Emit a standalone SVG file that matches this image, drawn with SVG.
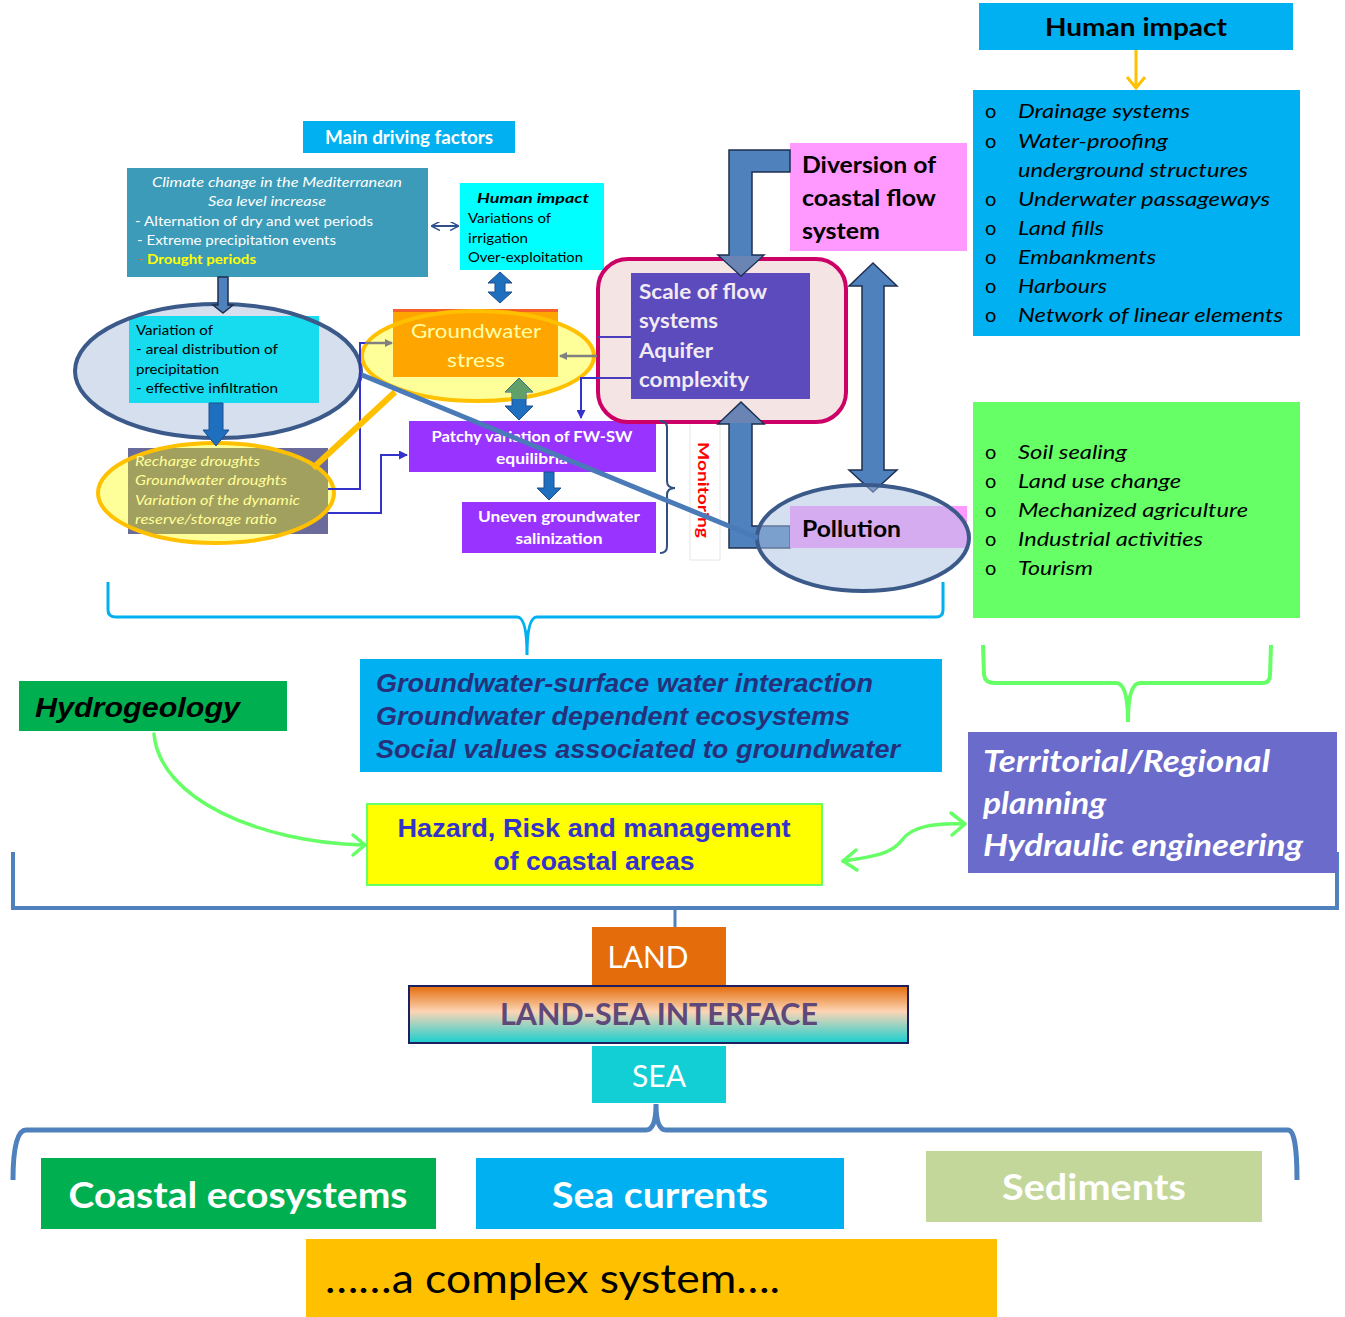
<svg xmlns="http://www.w3.org/2000/svg" width="1345" height="1317" viewBox="0 0 1345 1317">
<style>
.ca{font-family:Lato,"Open Sans","Noto Sans",sans-serif}
.ar{font-family:"Liberation Sans",Arial,sans-serif}
.b{font-weight:bold}
.i{font-style:italic}
.wt{fill:#ffffff}
.bk{fill:#000000}
.pipe{fill:#4f81bd;stroke:#1f2f4f;stroke-width:1.5}
.blk{fill:#1f6fbf;stroke:#1f4f8f;stroke-width:1}
.thin{fill:none;stroke:#3333cc;stroke-width:2}
.gline{fill:none;stroke:#66ff66;stroke-width:3.5;stroke-linecap:round;stroke-linejoin:round}
</style>
<defs>
<linearGradient id="lsg" x1="0" y1="0" x2="0" y2="1">
<stop offset="0" stop-color="#e46c0a"/>
<stop offset="0.45" stop-color="#fcd5b5"/>
<stop offset="1" stop-color="#17cfd0"/>
</linearGradient>
<marker id="mgray" markerWidth="8" markerHeight="8" refX="7" refY="4" orient="auto" markerUnits="userSpaceOnUse">
<path d="M0,0 L8,4 L0,8 z" fill="#808080"/>
</marker>
<marker id="mblue" markerWidth="9" markerHeight="9" refX="8" refY="4.5" orient="auto" markerUnits="userSpaceOnUse">
<path d="M0,0 L9,4.5 L0,9 z" fill="#3333cc"/>
</marker>
<marker id="mdark" markerWidth="9" markerHeight="9" refX="8" refY="4.5" orient="auto" markerUnits="userSpaceOnUse">
<path d="M0,0 L9,4.5 L0,9" fill="none" stroke="#2f4f8f" stroke-width="1.5"/>
</marker>
<marker id="mdarkS" markerWidth="9" markerHeight="9" refX="1" refY="4.5" orient="auto" markerUnits="userSpaceOnUse">
<path d="M9,0 L0,4.5 L9,9" fill="none" stroke="#2f4f8f" stroke-width="1.5"/>
</marker>
<clipPath id="olClip"><ellipse cx="216" cy="493" rx="118" ry="50"/></clipPath>
</defs>

<!-- Right column -->
<g id="human-impact-title">
<rect x="979" y="3" width="314" height="47" fill="#00b0f0"/>
<text x="1136" y="36" class="ca b bk" font-size="25" text-anchor="middle" textLength="182" lengthAdjust="spacingAndGlyphs">Human impact</text>
</g>
<g id="human-impact-list">
<rect x="973" y="90" width="327" height="246" fill="#00b0f0"/>
<g class="ca bk" font-size="20">
<text x="985" y="118">o</text><text x="1018" y="118" class="i" textLength="172" lengthAdjust="spacingAndGlyphs">Drainage systems</text>
<text x="985" y="148">o</text><text x="1018" y="148" class="i" textLength="150" lengthAdjust="spacingAndGlyphs">Water-proofing</text>
<text x="1018" y="177" class="i" textLength="230" lengthAdjust="spacingAndGlyphs">underground structures</text>
<text x="985" y="206">o</text><text x="1018" y="206" class="i" textLength="252" lengthAdjust="spacingAndGlyphs">Underwater passageways</text>
<text x="985" y="235">o</text><text x="1018" y="235" class="i" textLength="86" lengthAdjust="spacingAndGlyphs">Land fills</text>
<text x="985" y="264">o</text><text x="1018" y="264" class="i" textLength="138" lengthAdjust="spacingAndGlyphs">Embankments</text>
<text x="985" y="293">o</text><text x="1018" y="293" class="i" textLength="89" lengthAdjust="spacingAndGlyphs">Harbours</text>
<text x="985" y="322">o</text><text x="1018" y="322" class="i" textLength="265" lengthAdjust="spacingAndGlyphs">Network of linear elements</text>
</g>
</g>
<g id="land-use-list">
<rect x="973" y="402" width="327" height="216" fill="#66ff66"/>
<g class="ca bk" font-size="20">
<text x="985" y="459">o</text><text x="1018" y="459" class="i" textLength="109" lengthAdjust="spacingAndGlyphs">Soil sealing</text>
<text x="985" y="488">o</text><text x="1018" y="488" class="i" textLength="163" lengthAdjust="spacingAndGlyphs">Land use change</text>
<text x="985" y="517">o</text><text x="1018" y="517" class="i" textLength="230" lengthAdjust="spacingAndGlyphs">Mechanized agriculture</text>
<text x="985" y="546">o</text><text x="1018" y="546" class="i" textLength="185" lengthAdjust="spacingAndGlyphs">Industrial activities</text>
<text x="985" y="575">o</text><text x="1018" y="575" class="i" textLength="75" lengthAdjust="spacingAndGlyphs">Tourism</text>
</g>
</g>

<!-- Top-left section -->
<g id="main-driving-factors">
<rect x="303" y="121" width="212" height="32" fill="#00b0f0"/>
<text x="409" y="144" class="ca b wt" font-size="18" text-anchor="middle" textLength="168" lengthAdjust="spacingAndGlyphs">Main driving factors</text>
</g>
<g id="climate-change">
<rect x="127" y="168" width="301" height="109" fill="#3b9bb9"/>
<g class="ca wt" font-size="13">
<text x="277" y="187" class="i" text-anchor="middle" textLength="250" lengthAdjust="spacingAndGlyphs">Climate change in the Mediterranean</text>
<text x="267" y="206" class="i" text-anchor="middle" textLength="118" lengthAdjust="spacingAndGlyphs">Sea level increase</text>
<text x="135" y="226" textLength="238" lengthAdjust="spacingAndGlyphs">-  Alternation of dry and wet periods</text>
<text x="137" y="245" textLength="199" lengthAdjust="spacingAndGlyphs">- Extreme precipitation events</text>
<text x="138" y="264" fill="#e46c0a">-</text>
<text x="147" y="264" class="b" fill="#ffff00" textLength="109" lengthAdjust="spacingAndGlyphs">Drought periods</text>
</g>
</g>
<g id="human-impact-small">
<rect x="460" y="183" width="144" height="87" fill="#00ffff"/>
<g class="ca bk" font-size="13">
<text x="533" y="203" class="b i" text-anchor="middle" font-size="14" textLength="112" lengthAdjust="spacingAndGlyphs">Human impact</text>
<text x="468" y="223" textLength="83" lengthAdjust="spacingAndGlyphs">Variations of</text>
<text x="468" y="243" textLength="60" lengthAdjust="spacingAndGlyphs">irrigation</text>
<text x="468" y="262" textLength="115" lengthAdjust="spacingAndGlyphs">Over-exploitation</text>
</g>
</g>
<g id="variation">
<ellipse cx="218" cy="371" rx="143" ry="67" fill="#d5dfee"/>
<rect x="129" y="316" width="190" height="87" fill="#17dbee"/>
<ellipse cx="218" cy="371" rx="143" ry="67" fill="none" stroke="#3b5a8a" stroke-width="4"/>
<g class="ca bk" font-size="13.5">
<text x="136" y="335" textLength="77" lengthAdjust="spacingAndGlyphs">Variation of</text>
<text x="136" y="354" textLength="142" lengthAdjust="spacingAndGlyphs">-  areal distribution of</text>
<text x="136" y="374" textLength="83" lengthAdjust="spacingAndGlyphs">precipitation</text>
<text x="136" y="393" textLength="142" lengthAdjust="spacingAndGlyphs">-  effective infiltration</text>
</g>
</g>
<g id="droughts">
<rect x="128" y="448" width="200" height="86" fill="#6b6b9b"/>
<ellipse cx="216" cy="493" rx="118" ry="50" fill="#ffff99"/>
<rect x="128" y="448" width="200" height="86" fill="#a2a05e" clip-path="url(#olClip)"/>
<ellipse cx="216" cy="493" rx="118" ry="50" fill="none" stroke="#ffc000" stroke-width="4"/>
<g class="ca i" font-size="13" fill="#ffff99">
<text x="135" y="466" textLength="125" lengthAdjust="spacingAndGlyphs">Recharge droughts</text>
<text x="135" y="485" textLength="152" lengthAdjust="spacingAndGlyphs">Groundwater droughts</text>
<text x="135" y="505" textLength="165" lengthAdjust="spacingAndGlyphs">Variation of the dynamic</text>
<text x="135" y="524" textLength="142" lengthAdjust="spacingAndGlyphs">reserve/storage ratio</text>
</g>
</g>
<g id="groundwater-stress">
<ellipse cx="478" cy="356" rx="116" ry="45" fill="#ffff99"/>
<rect x="393" y="309" width="165" height="68" fill="#f5602a"/>
<rect x="393" y="312" width="165" height="65" fill="#ffa500"/>
<ellipse cx="478" cy="356" rx="116" ry="45" fill="none" stroke="#ffc000" stroke-width="4"/>
<text x="476" y="338" class="ca" font-size="20" fill="#ffffa8" text-anchor="middle" textLength="130" lengthAdjust="spacingAndGlyphs">Groundwater</text>
<text x="476" y="367" class="ca" font-size="20" fill="#ffffa8" text-anchor="middle" textLength="58" lengthAdjust="spacingAndGlyphs">stress</text>
</g>
<g id="patchy-variation">
<rect x="409" y="421" width="247" height="51" fill="#9933ff"/>
<text x="532" y="442" class="ca b wt" font-size="15" text-anchor="middle" textLength="201" lengthAdjust="spacingAndGlyphs">Patchy variation of FW-SW</text>
<text x="532" y="464" class="ca b wt" font-size="15" text-anchor="middle" textLength="72" lengthAdjust="spacingAndGlyphs">equilibria</text>
</g>
<g id="uneven-salinization">
<rect x="462" y="502" width="194" height="51" fill="#9933ff"/>
<text x="559" y="522" class="ca b wt" font-size="15" text-anchor="middle" textLength="162" lengthAdjust="spacingAndGlyphs">Uneven groundwater</text>
<text x="559" y="544" class="ca b wt" font-size="15" text-anchor="middle" textLength="87" lengthAdjust="spacingAndGlyphs">salinization</text>
</g>
<g id="monitoring">
<rect x="690" y="421" width="30" height="139" fill="#ffffff" stroke="#e6e6e6" stroke-width="1"/>
<text x="698" y="490" class="ca b" font-size="16" fill="#ff0000" text-anchor="middle" transform="rotate(90 698 490)" textLength="96" lengthAdjust="spacingAndGlyphs">Monitoring</text>
</g>
<g id="scale-of-flow">
<rect x="598" y="259" width="248" height="163" rx="30" ry="30" fill="#f5e4e4" stroke="#cc0066" stroke-width="4"/>
<rect x="631" y="273" width="179" height="126" fill="#5b4bbd"/>
<g class="ca b" font-size="20" fill="#f2eaf2">
<text x="639" y="299" textLength="128" lengthAdjust="spacingAndGlyphs">Scale of flow</text>
<text x="639" y="328" textLength="79" lengthAdjust="spacingAndGlyphs">systems</text>
<text x="639" y="358" textLength="74" lengthAdjust="spacingAndGlyphs">Aquifer</text>
<text x="639" y="387" textLength="110" lengthAdjust="spacingAndGlyphs">complexity</text>
</g>
</g>
<g id="diversion">
<rect x="790" y="143" width="177" height="108" fill="#ff99ff"/>
<g class="ca b bk" font-size="23">
<text x="802" y="173" textLength="134" lengthAdjust="spacingAndGlyphs">Diversion of</text>
<text x="802" y="206" textLength="134" lengthAdjust="spacingAndGlyphs">coastal flow</text>
<text x="802" y="239" textLength="78" lengthAdjust="spacingAndGlyphs">system</text>
</g>
</g>

<!-- Connectors -->
<g id="connectors">
<line x1="432" y1="226" x2="458" y2="226" stroke="#2f4f8f" stroke-width="2" marker-start="url(#mdarkS)" marker-end="url(#mdark)"/>
<polygon class="pipe" points="218,277 228,277 228,305 233,305 223,313 213,305 218,305"/>
<polygon class="blk" points="209,403 223,403 223,430 229,430 216,446 203,430 209,430"/>
<polygon class="blk" points="500,272 512,283 505,283 505,292 512,292 500,303 488,292 495,292 495,283 488,283"/>
<polygon class="blk" points="519,378 533,392 526,392 526,406 533,406 519,420 505,406 512,406 512,392 505,392"/>
<polygon fill="#62a06a" points="519,378 533,392 526,392 526,399 512,399 512,392 505,392"/>
<polygon class="blk" points="544,472 554,472 554,488 561,488 549,500 537,488 544,488"/>
<polyline class="thin" points="328,489 360,489 360,343 365,343"/>
<polyline class="thin" points="328,513 381,513 381,455 407,455" marker-end="url(#mblue)"/>
<line x1="365" y1="343" x2="392" y2="343" stroke="#808080" stroke-width="2.5" marker-end="url(#mgray)"/>
<line x1="597" y1="356" x2="560" y2="356" stroke="#808080" stroke-width="2.5" marker-end="url(#mgray)"/>
<line x1="597" y1="337" x2="631" y2="337" stroke="#4b3bbd" stroke-width="2"/>
<polyline points="631,378 581,378 581,418" fill="none" stroke="#3333cc" stroke-width="2" marker-end="url(#mblue)"/>
<line x1="597" y1="378" x2="631" y2="378" stroke="#4b3bbd" stroke-width="2"/>
<path d="M660,421 Q667,421 667,428 L667,481 Q667,488 675,488 Q667,488 667,495 L667,546 Q667,553 660,553" fill="none" stroke="#2f4f7f" stroke-width="2"/>
<line x1="313" y1="468" x2="395" y2="392" stroke="#ffc000" stroke-width="6"/>
<polygon class="pipe" points="790,150 729,150 729,255 718,255 741,276 764,255 752,255 752,172 790,172"/>
<polygon fill="#6a84b4" points="720,256 762,256 741,275"/>
<polygon class="pipe" points="790,548 729,548 729,424 718,424 741,402 764,424 752,424 752,526 790,526"/>
<polygon fill="#6a84b4" points="720,423 762,423 741,404"/>
<polygon class="pipe" points="873,263 897,286 884,286 884,470 897,470 873,492 849,470 862,470 862,286 849,286"/>
<line x1="1136" y1="50" x2="1136" y2="87" stroke="#ffc000" stroke-width="3"/>
<polyline points="1127,77 1136,88 1145,77" fill="none" stroke="#ffc000" stroke-width="3"/>
<path d="M108,582 L108,610 Q108,617 116,617 L517,617 Q527,617 527,655 Q527,617 537,617 L936,617 Q943,617 943,610 L943,582" fill="none" stroke="#00b0f0" stroke-width="3"/>
<path d="M983,645 L984,675 Q985,683 995,683 L1116,683 Q1128,683 1128,722 Q1128,683 1140,683 L1262,683 Q1270,683 1270,675 L1271,645" fill="none" stroke="#66ff66" stroke-width="4"/>
<path class="gline" d="M154,734 C160,800 260,842 363,845"/>
<polyline class="gline" points="353,835 365,845 353,855"/>
<path class="gline" d="M843,861 C880,856 893,852 902,840 C912,826 935,823 964,824"/>
<polyline class="gline" points="856,850 843,861 857,870"/>
<polyline class="gline" points="951,813 965,824 952,835"/>
<path d="M13,852 L13,908 L1337,908 L1337,852" fill="none" stroke="#4f81bd" stroke-width="4"/>
<line x1="675" y1="908" x2="675" y2="928" stroke="#4f81bd" stroke-width="3"/>
<path d="M13,1180 Q13,1130 26,1130 L646,1130 Q656,1130 656,1104 Q656,1130 666,1130 L1288,1130 Q1297,1130 1297,1180" fill="none" stroke="#4f81bd" stroke-width="5"/>
</g>

<g id="pollution">
<rect x="790" y="506" width="177" height="42" fill="#ff99ff"/>
<ellipse cx="863" cy="538" rx="106" ry="53" fill="#aabfe0" fill-opacity="0.5" stroke="#3b5a8a" stroke-width="4"/>
<text x="802" y="537" class="ca b bk" font-size="23" textLength="99" lengthAdjust="spacingAndGlyphs">Pollution</text>
</g>
<line id="diagonal-link" x1="362" y1="375" x2="758" y2="538" stroke="#4a7ab8" stroke-width="5"/>

<!-- Middle band -->
<g id="gw-sw-interaction">
<rect x="360" y="659" width="582" height="113" fill="#00b0f0"/>
<g class="ar b i" font-size="25" fill="#26307a">
<text x="376" y="692" textLength="497" lengthAdjust="spacingAndGlyphs">Groundwater-surface water interaction</text>
<text x="376" y="725" textLength="474" lengthAdjust="spacingAndGlyphs">Groundwater dependent ecosystems</text>
<text x="376" y="758" textLength="524" lengthAdjust="spacingAndGlyphs">Social values associated to groundwater</text>
</g>
</g>
<g id="hydrogeology">
<rect x="19" y="681" width="268" height="50" fill="#00b050"/>
<text x="35" y="717" class="ar b i bk" font-size="28" textLength="205" lengthAdjust="spacingAndGlyphs">Hydrogeology</text>
</g>
<g id="hazard">
<rect x="367" y="804" width="455" height="81" fill="#ffff00" stroke="#66ff66" stroke-width="2"/>
<text x="594" y="837" class="ar b" font-size="25" fill="#3333cc" text-anchor="middle" textLength="393" lengthAdjust="spacingAndGlyphs">Hazard, Risk and management</text>
<text x="594" y="870" class="ar b" font-size="25" fill="#3333cc" text-anchor="middle" textLength="201" lengthAdjust="spacingAndGlyphs">of coastal areas</text>
</g>
<g id="territorial">
<rect x="968" y="732" width="369" height="141" fill="#6b6bcc"/>
<g class="ca b i wt" font-size="30">
<text x="983" y="772" textLength="287" lengthAdjust="spacingAndGlyphs">Territorial/Regional</text>
<text x="983" y="814" textLength="123" lengthAdjust="spacingAndGlyphs">planning</text>
<text x="983" y="856" textLength="320" lengthAdjust="spacingAndGlyphs">Hydraulic engineering</text>
</g>
</g>

<!-- Bottom -->
<g id="land">
<rect x="592" y="927" width="134" height="58" fill="#e46c0a"/>
<text x="648" y="968" class="ca wt" font-size="30" text-anchor="middle" textLength="81" lengthAdjust="spacingAndGlyphs">LAND</text>
</g>
<g id="land-sea-interface">
<rect x="409" y="986" width="499" height="57" fill="url(#lsg)" stroke="#1f1f5f" stroke-width="2"/>
<text x="659" y="1025" class="ca b" font-size="30" fill="#5f497a" text-anchor="middle" textLength="318" lengthAdjust="spacingAndGlyphs">LAND-SEA INTERFACE</text>
</g>
<g id="sea">
<rect x="592" y="1046" width="134" height="57" fill="#11cfd5"/>
<text x="659" y="1087" class="ca wt" font-size="30" text-anchor="middle" textLength="54" lengthAdjust="spacingAndGlyphs">SEA</text>
</g>
<g id="coastal-ecosystems">
<rect x="41" y="1158" width="395" height="71" fill="#00b050"/>
<text x="238" y="1208" class="ca b wt" font-size="36" text-anchor="middle" textLength="339" lengthAdjust="spacingAndGlyphs">Coastal ecosystems</text>
</g>
<g id="sea-currents">
<rect x="476" y="1158" width="368" height="71" fill="#00b0f0"/>
<text x="660" y="1208" class="ca b wt" font-size="36" text-anchor="middle" textLength="216" lengthAdjust="spacingAndGlyphs">Sea currents</text>
</g>
<g id="sediments">
<rect x="926" y="1151" width="336" height="71" fill="#c4d79b"/>
<text x="1094" y="1200" class="ca b wt" font-size="36" text-anchor="middle" textLength="184" lengthAdjust="spacingAndGlyphs">Sediments</text>
</g>
<g id="complex-system">
<rect x="306" y="1239" width="691" height="78" fill="#ffc000"/>
<text x="325" y="1293" class="ca bk" font-size="40" textLength="455" lengthAdjust="spacingAndGlyphs">……a complex system….</text>
</g>
</svg>
